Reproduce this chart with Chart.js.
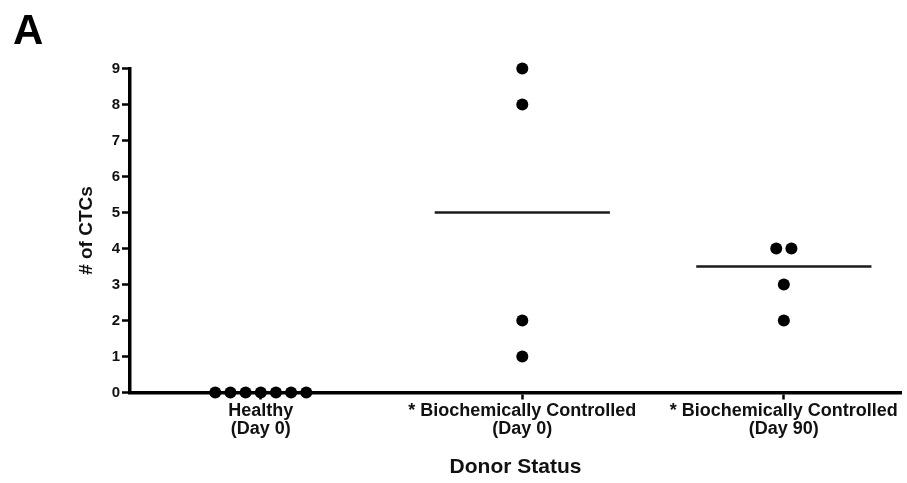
<!DOCTYPE html>
<html>
<head>
<meta charset="utf-8">
<script src="https://cdn.jsdelivr.net/npm/chart.js@4.4.1/dist/chart.umd.min.js"></script>
<style>
  body { margin: 0; background: #fff; }
  #wrap { position: relative; width: 907px; height: 483px; }
  #panel { position: absolute; left: 13px; top: 9px; font: bold 42px 'Liberation Sans', Arial, sans-serif; line-height: 1; color: #000; }
</style>
</head>
<body>
<div id="wrap">
  <canvas id="ctcChart"></canvas>
  <div id="panel">A</div>
</div>
<script>
/* ── data ── */
const categories = [
  ['Healthy', '(Day 0)'],
  ['* Biochemically Controlled', '(Day 0)'],
  ['* Biochemically Controlled', '(Day 90)'],
];
const healthyDay0 = [0, 0, 0, 0, 0, 0, 0];
const controlledDay0 = [9, 8, 2, 1];
const controlledDay90 = [4, 4, 3, 2];
const medians = [null, 5, 3.5];
const yTicks = [0, 1, 2, 3, 4, 5, 6, 7, 8, 9];

const FONT = "'Liberation Sans', Arial, sans-serif";
const SPREAD = 0.058;      // horizontal gap between tied points (x units)
const MEDIAN_HALF = 0.335; // half length of the median bar (x units)

/* tied values are spread side by side around the category centre */
function dotPoints(values, idx) {
  const counts = {}, seen = {};
  values.forEach(v => { counts[v] = (counts[v] || 0) + 1; });
  return values.map(v => {
    const i = seen[v] = (seen[v] ?? -1) + 1;
    return { x: idx + 1 + (i - (counts[v] - 1) / 2) * SPREAD, y: v };
  });
}

const groups = [healthyDay0, controlledDay0, controlledDay90];
const datasets = [];
groups.forEach((vals, i) => {
  datasets.push({ type: 'scatter', data: dotPoints(vals, i), pointRadius: 6, pointHoverRadius: 6,
    backgroundColor: '#000', borderColor: '#000', borderWidth: 0, clip: false });
});
medians.forEach((m, i) => {
  if (m === null) return;
  datasets.push({ type: 'line', data: [{ x: i + 1 - MEDIAN_HALF, y: m }, { x: i + 1 + MEDIAN_HALF, y: m }],
    borderColor: '#1a1a1a', borderWidth: 2.5, pointRadius: 0, fill: false, clip: false });
});

new Chart(document.getElementById('ctcChart'), {
  type: 'scatter',
  data: { datasets },
  options: {
    responsive: true, maintainAspectRatio: false, animation: false,
    layout: { padding: { top: 68.5, left: 0, right: 0, bottom: 0 } },
    plugins: { legend: { display: false }, tooltip: { enabled: false } },
    scales: {
      x: {
        type: 'linear', min: 0.5, max: 3.448,
        afterBuildTicks: s => { s.ticks = categories.map((_, i) => ({ value: i + 1 })); },
        afterFit: s => { s.height = 90.5; },
        ticks: { color: '#111', padding: 3, autoSkip: false, maxRotation: 0,
          font: { family: FONT, size: 18, weight: 'bold', lineHeight: 0.98 },
          callback: v => categories[v - 1] },
        grid: { drawOnChartArea: false, tickLength: 7, tickWidth: 2.5, tickColor: '#000' },
        border: { color: '#000', width: 3.5 },
        title: { display: true, text: 'Donor Status', color: '#111', padding: { top: 0, bottom: 3 },
          font: { family: FONT, size: 21, weight: 'bold' } },
      },
      y: {
        min: 0, max: 9,
        afterBuildTicks: s => { s.ticks = yTicks.map(v => ({ value: v })); },
        afterFit: s => { s.width = 130; },
        ticks: { color: '#111', padding: 2, font: { family: FONT, size: 15, weight: 'bold' } },
        grid: { drawOnChartArea: false, tickLength: 8, tickWidth: 2.5, tickColor: '#000' },
        border: { color: '#000', width: 3.5 },
        title: { display: true, text: '# of CTCs', color: '#111', padding: { top: 75, bottom: 0 },
          font: { family: FONT, size: 19, weight: 'bold' } },
      },
    },
  },
});
</script>
</body>
</html>
